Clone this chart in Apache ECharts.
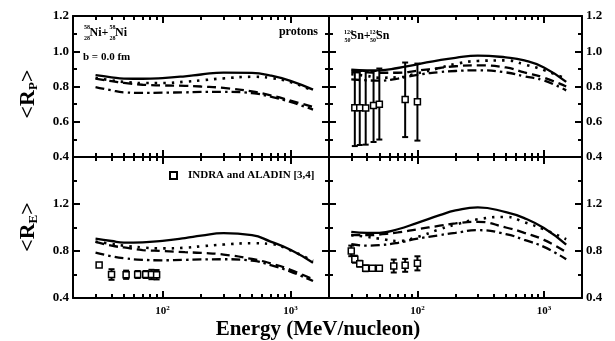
<!DOCTYPE html>
<html><head><meta charset="utf-8">
<script src="https://cdn.jsdelivr.net/npm/echarts@6/dist/echarts.min.js"></script>
<style>html,body{margin:0;padding:0;background:#fff}#c{width:615px;height:341px}</style>
</head><body><div id="c"></div>
<script>
// ---- data ----
const energies = [30, 40, 50, 70, 100, 150, 200, 300, 500, 700, 1000, 1500];
// top-left: Ni+Ni, <R_P>
const niP_solid   = [0.864, 0.852, 0.845, 0.844, 0.848, 0.858, 0.868, 0.879, 0.877, 0.862, 0.832, 0.782];
const niP_dotted  = [0.848, 0.835, 0.826, 0.820, 0.820, 0.827, 0.835, 0.846, 0.855, 0.848, 0.825, 0.776];
const niP_dashed  = [0.845, 0.830, 0.820, 0.810, 0.806, 0.804, 0.800, 0.792, 0.772, 0.750, 0.720, 0.684];
const niP_dashdot = [0.797, 0.778, 0.767, 0.764, 0.765, 0.767, 0.769, 0.770, 0.762, 0.742, 0.712, 0.669];
// top-right: Sn+Sn, <R_P>
const snP_solid   = [0.895, 0.892, 0.892, 0.905, 0.926, 0.950, 0.963, 0.975, 0.965, 0.948, 0.908, 0.826];
const snP_dotted  = [0.870, 0.860, 0.850, 0.852, 0.875, 0.905, 0.928, 0.945, 0.948, 0.925, 0.893, 0.843];
const snP_dashed  = [0.882, 0.880, 0.878, 0.878, 0.890, 0.905, 0.915, 0.920, 0.908, 0.880, 0.850, 0.800];
const snP_dashdot = [0.840, 0.835, 0.833, 0.845, 0.866, 0.882, 0.888, 0.892, 0.880, 0.858, 0.834, 0.778];
// bottom-left: Ni+Ni, <R_E>
const niE_solid   = [0.906, 0.885, 0.872, 0.874, 0.887, 0.910, 0.930, 0.952, 0.935, 0.880, 0.810, 0.700];
const niE_dotted  = [0.880, 0.860, 0.845, 0.830, 0.822, 0.828, 0.840, 0.855, 0.866, 0.860, 0.805, 0.715];
const niE_dashed  = [0.878, 0.845, 0.830, 0.808, 0.800, 0.790, 0.784, 0.770, 0.732, 0.695, 0.640, 0.558];
const niE_dashdot = [0.786, 0.755, 0.738, 0.725, 0.721, 0.725, 0.728, 0.730, 0.718, 0.680, 0.625, 0.544];
// bottom-right: Sn+Sn, <R_E>
const snE_solid   = [0.963, 0.955, 0.955, 0.985, 1.040, 1.105, 1.145, 1.172, 1.130, 1.080, 0.995, 0.855];
const snE_dotted  = [0.935, 0.920, 0.905, 0.885, 0.920, 0.985, 1.025, 1.070, 1.090, 1.045, 0.985, 0.900];
const snE_dashed  = [0.935, 0.935, 0.940, 0.958, 0.985, 1.015, 1.035, 1.048, 1.000, 0.955, 0.895, 0.790];
const snE_dashdot = [0.858, 0.846, 0.850, 0.870, 0.905, 0.935, 0.955, 0.977, 0.944, 0.895, 0.835, 0.730];

// experimental data (INDRA and ALADIN)
const snP_dataE  = [32, 35, 39, 45, 50, 80, 100];
const snP_dataV  = [0.680, 0.680, 0.678, 0.692, 0.699, 0.726, 0.714];
const snP_dataLo = [0.462, 0.468, 0.470, 0.485, 0.499, 0.513, 0.493];
const snP_dataHi = [0.892, 0.888, 0.888, 0.888, 0.902, 0.936, 0.930];

const niE_dataE   = [32, 40, 52, 64, 74, 82, 90];
const niE_dataV   = [0.680, 0.600, 0.598, 0.600, 0.600, 0.600, 0.598];
const niE_dataErr = [0.010, 0.045, 0.035, 0.030, 0.030, 0.040, 0.040];

const snE_dataE   = [30, 32, 35, 39, 44, 50, 65, 80, 100];
const snE_dataV   = [0.801, 0.730, 0.692, 0.653, 0.653, 0.653, 0.672, 0.678, 0.695];
const snE_dataErr = [0.045, 0.030, 0.025, 0.025, 0.020, 0.020, 0.055, 0.055, 0.060];

// ticks
const xMajorTicks = [100, 1000];
const xMinorTicks = [30, 40, 50, 60, 70, 80, 90, 200, 300, 400, 500, 600, 700, 800, 900];
const legendName = 'INDRA and ALADIN [3,4]';

// ---- chart ----
const FF = 'Liberation Serif';
const chart = echarts.init(document.getElementById('c'), null, {renderer: 'canvas'});

const grids = [
  {left: 73, top: 16, width: 256, height: 141},
  {left: 329, top: 16, width: 253, height: 141},
  {left: 73, top: 157, width: 256, height: 141},
  {left: 329, top: 157, width: 253, height: 141}
];

function xAxesFor(g, showLabel) {
  const base = {gridIndex: g, type: 'log', logBase: 10, min: 20, max: 2000, splitLine: {show: false}};
  const res = [];
  ['bottom', 'top'].forEach(pos => {
    res.push(Object.assign({}, base, {
      position: pos,
      axisLine: {show: true, lineStyle: {color: '#000', width: 2}},
      axisTick: {show: true, inside: true, length: 7, customValues: xMajorTicks, lineStyle: {color: '#000', width: 2}},
      axisLabel: {show: showLabel && pos === 'bottom', customValues: xMajorTicks, margin: 7,
        formatter: v => '{b|10}{s|' + Math.round(Math.log10(v)) + '}',
        rich: {b: {fontFamily: FF, fontWeight: 'bold', fontSize: 11, color: '#000'},
               s: {fontFamily: FF, fontWeight: 'bold', fontSize: 7, color: '#000', verticalAlign: 'top', padding: [0, 0, 6, 0]}}}
    }));
    res.push(Object.assign({}, base, {
      position: pos,
      axisLine: {show: false},
      axisTick: {show: true, inside: true, length: 4, customValues: xMinorTicks, lineStyle: {color: '#000', width: 2}},
      axisLabel: {show: false}
    }));
  });
  return res;
}

function yAxesFor(g, top, labelSide) {
  const base = {
    gridIndex: g, type: 'value',
    min: 0.4, max: top ? 1.2 : 1.6, interval: top ? 0.2 : 0.4,
    splitLine: {show: false},
    axisLine: {show: true, lineStyle: {color: '#000', width: 2}},
    axisTick: {show: true, inside: true, length: 7, lineStyle: {color: '#000', width: 2}},
    minorTick: {show: true, splitNumber: 2, length: 4, lineStyle: {color: '#000', width: 2}}
  };
  const mk = pos => Object.assign({}, base, {
    position: pos,
    axisLabel: {
      show: labelSide === pos, margin: 4, showMaxLabel: top,
      fontFamily: FF, fontWeight: 'bold', fontSize: 13, color: '#000',
      formatter: v => v.toFixed(1)
    }
  });
  return [mk('left'), mk('right')];
}

const xAxis = [].concat(xAxesFor(0, false), xAxesFor(1, false), xAxesFor(2, true), xAxesFor(3, true));
const yAxis = [].concat(yAxesFor(0, true, 'left'), yAxesFor(1, true, 'right'), yAxesFor(2, false, 'left'), yAxesFor(3, false, 'right'));

const styles = {
  solid: 'solid',
  dotted: [2.5, 6],
  dashed: [9, 5],
  dashdot: [9, 4, 2.5, 4]
};

const series = [];
function addCurves(g, sets) {
  Object.keys(sets).forEach(k => {
    series.push({
      type: 'line', xAxisIndex: g * 4, yAxisIndex: g * 2, smooth: true, showSymbol: false, silent: true,
      data: energies.map((e, i) => [e, sets[k][i]]),
      lineStyle: {color: '#000', width: k === 'dotted' ? 2.6 : 2.3, type: styles[k], opacity: 1}, z: 2
    });
  });
}
addCurves(0, {solid: niP_solid, dotted: niP_dotted, dashed: niP_dashed, dashdot: niP_dashdot});
addCurves(1, {solid: snP_solid, dotted: snP_dotted, dashed: snP_dashed, dashdot: snP_dashdot});
addCurves(2, {solid: niE_solid, dotted: niE_dotted, dashed: niE_dashed, dashdot: niE_dashdot});
addCurves(3, {solid: snE_solid, dotted: snE_dotted, dashed: snE_dashed, dashdot: snE_dashdot});

function errRender(params, api) {
  const x = api.value(0);
  const a = api.coord([x, api.value(1)]);
  const b = api.coord([x, api.value(2)]);
  const w = 3;
  const st = {stroke: '#000', lineWidth: 2};
  return {type: 'group', children: [
    {type: 'line', shape: {x1: a[0], y1: a[1], x2: b[0], y2: b[1]}, style: st},
    {type: 'line', shape: {x1: a[0] - w, y1: a[1], x2: a[0] + w, y2: a[1]}, style: st},
    {type: 'line', shape: {x1: b[0] - w, y1: b[1], x2: b[0] + w, y2: b[1]}, style: st}
  ]};
}
function addData(g, E, V, lo, hi) {
  series.push({
    type: 'custom', xAxisIndex: g * 4, yAxisIndex: g * 2, silent: true, z: 3,
    renderItem: errRender, encode: {x: 0, y: [1, 2]},
    data: E.map((e, i) => [e, lo[i], hi[i]])
  });
  series.push({
    type: 'scatter', name: legendName, xAxisIndex: g * 4, yAxisIndex: g * 2, z: 4, silent: true,
    symbol: 'rect', symbolSize: 6,
    itemStyle: {color: '#fff', borderColor: '#000', borderWidth: 1.5, opacity: 1},
    data: E.map((e, i) => [e, V[i]])
  });
}
addData(1, snP_dataE, snP_dataV, snP_dataLo, snP_dataHi);
addData(2, niE_dataE, niE_dataV, niE_dataV.map((v, i) => v - niE_dataErr[i]), niE_dataV.map((v, i) => v + niE_dataErr[i]));
addData(3, snE_dataE, snE_dataV, snE_dataV.map((v, i) => v - snE_dataErr[i]), snE_dataV.map((v, i) => v + snE_dataErr[i]));

function txt(x, y, text, size, align, extra) {
  return Object.assign({
    type: 'text', x: x, y: y, silent: true,
    style: {text: text, fontFamily: FF, fontWeight: 'bold', fontSize: size, fill: '#000',
            textAlign: align || 'left', textVerticalAlign: 'middle', align: align || 'left', verticalAlign: 'middle'}
  }, extra || {});
}
function ytitle(y, sub) {
  return {type: 'text', x: 28, y: y, rotation: Math.PI / 2, silent: true,
   style: {text: '<R{s|' + sub + '}>', fontFamily: FF, fontWeight: 'bold', fontSize: 22, fill: '#000',
           textAlign: 'center', textVerticalAlign: 'middle', align: 'center', verticalAlign: 'middle',
           rich: {s: {fontFamily: FF, fontWeight: 'bold', fontSize: 13, fill: '#000', padding: [11, 0, 0, 0]}}}};
}

const graphic = [
  // Ni+Ni label
  txt(84, 27, '58', 6), txt(84, 38, '28', 6), txt(89.5, 33, 'Ni+', 12),
  txt(109.5, 27, '58', 6), txt(109.5, 38, '28', 6), txt(115, 33, 'Ni', 12),
  txt(318, 32, 'protons', 12, 'right'),
  txt(83, 57.5, 'b = 0.0 fm', 11),
  // Sn+Sn label
  txt(344, 32, '124', 6), txt(344.5, 40, '50', 6), txt(350.5, 36, 'Sn+', 12),
  txt(369.5, 32, '124', 6), txt(370, 40, '50', 6), txt(376, 36, 'Sn', 12),
  // axis titles
  txt(318, 330, 'Energy (MeV/nucleon)', 21, 'center'),
  ytitle(94, 'P'),
  ytitle(227, 'E')
];

chart.setOption({
  animation: false,
  backgroundColor: '#fff',
  grid: grids,
  xAxis: xAxis,
  yAxis: yAxis,
  legend: {
    data: [legendName], left: 164, top: 165, itemWidth: 7, itemHeight: 7, selectedMode: false,
    textStyle: {fontFamily: FF, fontWeight: 'bold', fontSize: 11, color: '#000', padding: [0, 0, 0, 6]}
  },
  graphic: graphic,
  series: series
});
</script>
</body></html>
